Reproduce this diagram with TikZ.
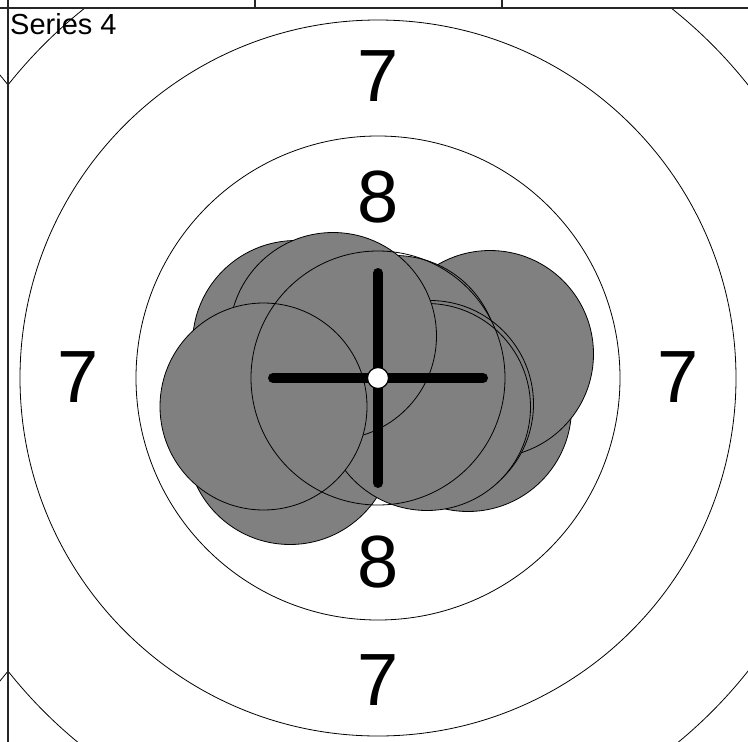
\documentclass[tikz,border=0pt]{standalone}
\usepackage{fontspec}
\setmainfont{Liberation Sans}
\definecolor{shotgray}{HTML}{808080}
\begin{document}
\begin{tikzpicture}[x=1pt,y=-1pt,
  shot/.style={fill=shotgray,draw=black,line width=0.8pt},
  ring/.style={draw=black,line width=0.8pt},
  border/.style={draw=black!85,line width=1.3pt},
  lbl/.style={inner sep=0pt,font=\fontsize{74}{74}\selectfont},
  cross/.style={line width=10pt,line cap=round,draw=black}]
\useasboundingbox (0,0) rectangle (748,742);
\coordinate (c) at (378,378);
% neighbouring cell on the left
\begin{scope}
\clip (0,0) rectangle (8,742);
\draw[ring] (-362,378) circle[radius=472pt];
\end{scope}
\begin{scope}
\clip (8,8) rectangle (748,742);
\draw[ring] (c) circle[radius=472pt];
\draw[ring] (c) circle[radius=358pt];
\draw[ring] (c) circle[radius=242pt];
\node[lbl] (t7) at (378,76.5) {7};
\node[lbl] (b7) at (378,680) {7};
\node[lbl] (l7) at (78.5,377) {7};
\node[lbl] (r7) at (678,377) {7};
\node[lbl] (t8) at (378,197.5) {8};
\node[lbl] (b8) at (378,562) {8};
% shots
\draw[shot] (468,408) circle[radius=103.5pt];
\draw[shot] (490,354) circle[radius=103.5pt];
\draw[shot] (395,359) circle[radius=103.5pt];
\draw[shot] (296,344) circle[radius=103.5pt];
\draw[shot] (290,441) circle[radius=103.5pt];
\draw[shot] (430,404) circle[radius=103.5pt];
\draw[shot] (427,407) circle[radius=103.5pt];
\draw[shot] (333,336) circle[radius=103.5pt];
\draw[shot] (263.5,406.5) circle[radius=103.5pt];
% ring 9 on top
\draw[ring] (c) circle[radius=127pt];
% crosshair
\coordinate (hl) at (273,378);
\coordinate (hr) at (483,378);
\coordinate (vt) at (378,273);
\coordinate (vb) at (378,483);
\draw[cross] (hl) -- (hr);
\draw[cross] (vt) -- (vb);
\draw[fill=white,draw=black,line width=1.2pt] (c) circle[radius=10.5pt];
\end{scope}
% cell borders
\coordinate (tl) at (8,8);
\coordinate (tr) at (748,8);
\coordinate (bl) at (8,742);
\draw[border] (8,0) -- (bl);
\draw[border] (0,8) -- (tr);
\draw[border] (255,0) -- (255,8);
\draw[border] (502,0) -- (502,8);
\node[anchor=base west,inner sep=0pt,font=\fontsize{29}{30}\selectfont] (title) at (10,34.3) {Series 4};
\end{tikzpicture}
\end{document}
